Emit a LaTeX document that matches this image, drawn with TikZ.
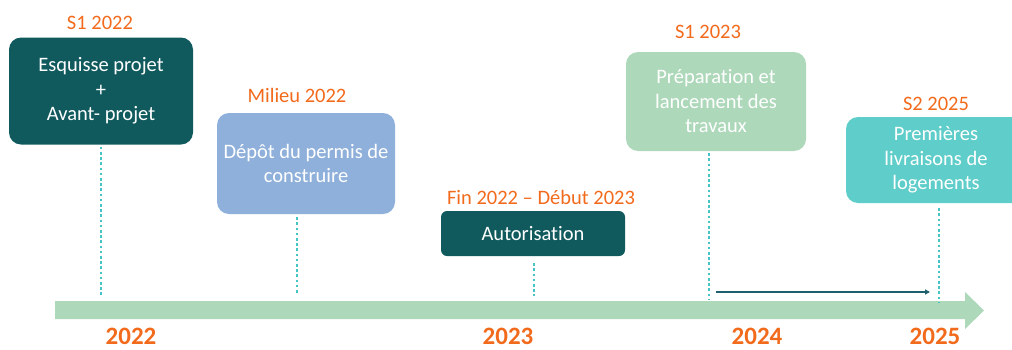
\documentclass[tikz,border=0pt]{standalone}
\usepackage{fontspec}
\setmainfont{Carlito}[Ligatures=NoCommon]
\usetikzlibrary{arrows.meta}
\definecolor{orng}{HTML}{F26A1B}
\definecolor{dteal}{HTML}{105A5E}
\definecolor{lblue}{HTML}{8FB0DA}
\definecolor{lgreen}{HTML}{ADD8BA}
\definecolor{cyanb}{HTML}{5FCDC9}
\definecolor{dotc}{HTML}{45C4C4}
\definecolor{barc}{HTML}{ADD8BA}
\definecolor{arrc}{HTML}{1E5F6E}
\begin{document}
\begin{tikzpicture}[x=1pt,y=-1pt,
  box/.style={rounded corners=12pt, inner sep=0pt, align=center, text=white,
    font=\fontsize{20.5}{24.5}\selectfont},
  datelbl/.style={text=orng, font=\fontsize{20.5}{22}\selectfont, inner sep=0pt},
  yearlbl/.style={text=orng, font=\fontsize{25}{28}\selectfont\bfseries, inner sep=0pt},
  dotline/.style={draw=dotc, line width=2.8pt, dash pattern=on 2.6pt off 2.6pt}]
\useasboundingbox (0,0) rectangle (1012,349);
\clip (0,0) rectangle (1012,349);
% timeline bar
\fill[barc] (55,301) -- (965,301) -- (965,292) -- (984,310.5) -- (965,329) -- (965,319) -- (55,319) -- cycle;
% boxes
\node[box, fill=dteal, minimum width=184pt, minimum height=107pt] (b1) at (101,91) {Esquisse projet\\+\\Avant- projet};
\node[box, fill=lblue, minimum width=178pt, minimum height=101pt] (b2) at (306,163.5) {Dépôt du permis de\\construire};
\node[box, fill=dteal, rounded corners=6pt, minimum width=184pt, minimum height=45pt] (b3) at (533,233.5) {Autorisation};
\node[box, fill=lgreen, minimum width=180pt, minimum height=99pt] (b4) at (716,101.5) {Préparation et\\lancement des\\travaux};
\node[box, fill=cyanb, minimum width=180pt, minimum height=86pt] (b5) at (936,160) {Premières\\livraisons de\\logements};
% date labels
\node[datelbl] (d1) at (100,23) {S1 2022};
\node[datelbl] (d2) at (297,95) {Milieu 2022};
\node[datelbl] (d3) at (541,197) {Fin 2022 – Début 2023};
\node[datelbl] (d4) at (708,32) {S1 2023};
\node[datelbl] (d5) at (936,104) {S2 2025};
% dotted connectors
\coordinate (e1) at (101,296);
\coordinate (e2) at (297,294);
\coordinate (e3) at (534,296);
\coordinate (e4) at (709,300);
\coordinate (e5) at (939,302);
\draw[dotline] (b1.south -| e1) ++(0,2) -- (e1);
\draw[dotline] (b2.south -| e2) ++(0,3) -- (e2);
\draw[dotline] (b3.south -| e3) ++(0,7) -- (e3);
\draw[dotline] (b4.south -| e4) ++(0,2) -- (e4);
\draw[dotline] (b5.south -| e5) ++(0,5) -- (e5);
% small arrow
\coordinate (a1) at (716,292);
\coordinate (a2) at (930,292);
\draw[arrc, line width=1.1pt, -{Triangle[length=5pt,width=5pt]}] (a1) -- (a2);
% years
\node[yearlbl] (y1) at (131,336.5) {2022};
\node[yearlbl] (y2) at (508,336.5) {2023};
\node[yearlbl] (y3) at (757,336.5) {2024};
\node[yearlbl] (y4) at (935,336.5) {2025};
\end{tikzpicture}
\end{document}
